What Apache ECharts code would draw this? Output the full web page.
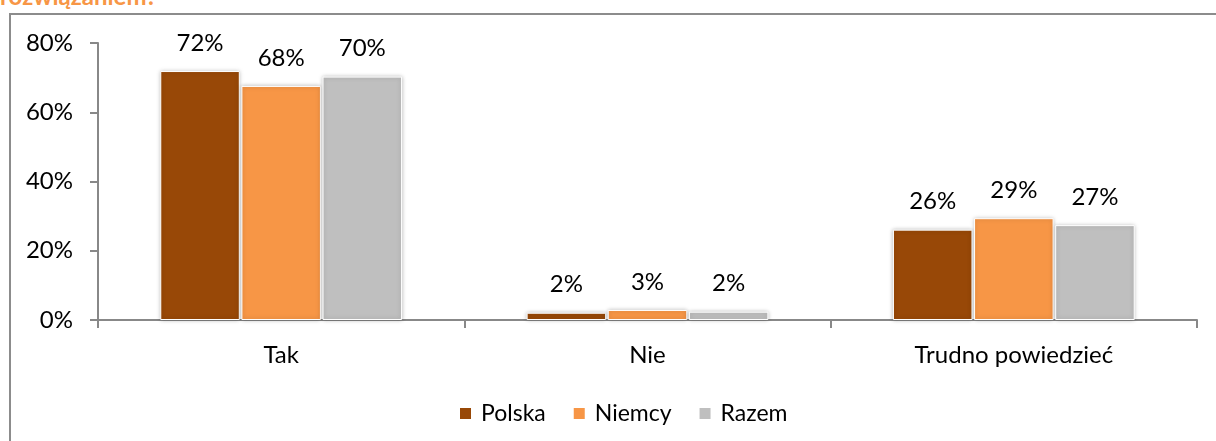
<!DOCTYPE html>
<html>
<head>
<meta charset="utf-8">
<title>Tak / Nie / Trudno powiedzieć</title>
<script src="https://cdn.jsdelivr.net/npm/echarts@6/dist/echarts.min.js"></script>
<style>
  html, body { margin: 0; padding: 0; background: #fff; overflow: hidden; }
  #wrap { position: relative; width: 1216px; height: 441px; }
  #head { position: absolute; left: 0; top: -16px; font: bold 24px Lato, sans-serif; color: #F79646; line-height: 24px; white-space: nowrap; }
  #frame { position: absolute; left: 9px; top: 13px; width: 1220px; height: 450px; border: 2px solid #8c8c8c; box-sizing: border-box; }
  #chart { position: absolute; left: 0; top: 0; width: 1216px; height: 441px; }
</style>
</head>
<body>
<div id="wrap">
  <div id="head">rozwiązaniem?</div>
  <div id="frame"></div>
  <div id="chart"></div>
</div>
<script>
var categories = ['Tak', 'Nie', 'Trudno powiedzieć'];
var polska = [71.9, 2.1, 26.1];
var niemcy = [67.6, 2.9, 29.4];
var razem = [70.3, 2.4, 27.4];
var yTicks = [0, 20, 40, 60, 80];

var FONT = 'Lato, sans-serif';

function bar(name, data, color) {
    return {
        name: name,
        type: 'bar',
        data: data,
        barGap: '2%',
        barCategoryGap: '34%',
        itemStyle: {
            color: color,
            borderColor: '#ffffff',
            borderWidth: 1,
            shadowBlur: 4,
            shadowColor: 'rgba(0,0,0,0.25)'
        },
        label: {
            show: true,
            position: 'top',
            distance: 16,
            color: '#000',
            fontFamily: FONT,
            fontSize: 24,
            formatter: function (p) { return Math.round(p.value) + '%'; }
        }
    };
}

var option = {
    animation: false,
    grid: { left: 98, right: 19, top: 43, bottom: 121, containLabel: false },
    legend: {
        left: 453,
        top: 397,
        icon: 'rect',
        itemWidth: 13,
        itemHeight: 13,
        itemGap: 26,
        textStyle: { fontFamily: FONT, fontSize: 23, color: '#000', padding: [0, 0, 0, 4] },
        data: ['Polska', 'Niemcy', 'Razem']
    },
    xAxis: {
        type: 'category',
        data: categories,
        axisLine: { lineStyle: { color: '#888', width: 2 } },
        axisTick: { show: true, length: 8, lineStyle: { color: '#888', width: 2 } },
        axisLabel: { margin: 23, color: '#000', fontFamily: FONT, fontSize: 24 }
    },
    yAxis: {
        type: 'value',
        min: yTicks[0],
        max: yTicks[yTicks.length - 1],
        interval: 20,
        splitLine: { show: false },
        axisLine: { show: true, lineStyle: { color: '#888', width: 2 } },
        axisTick: { show: true, length: 8, lineStyle: { color: '#888', width: 2 } },
        axisLabel: { margin: 25, color: '#000', fontFamily: FONT, fontSize: 24, formatter: '{value}%' }
    },
    series: [
        bar('Polska', polska, '#984807'),
        bar('Niemcy', niemcy, '#F79646'),
        bar('Razem', razem, '#BFBFBF')
    ]
};

var myChart = echarts.init(document.getElementById('chart'));
myChart.setOption(option);
</script>
</body>
</html>
